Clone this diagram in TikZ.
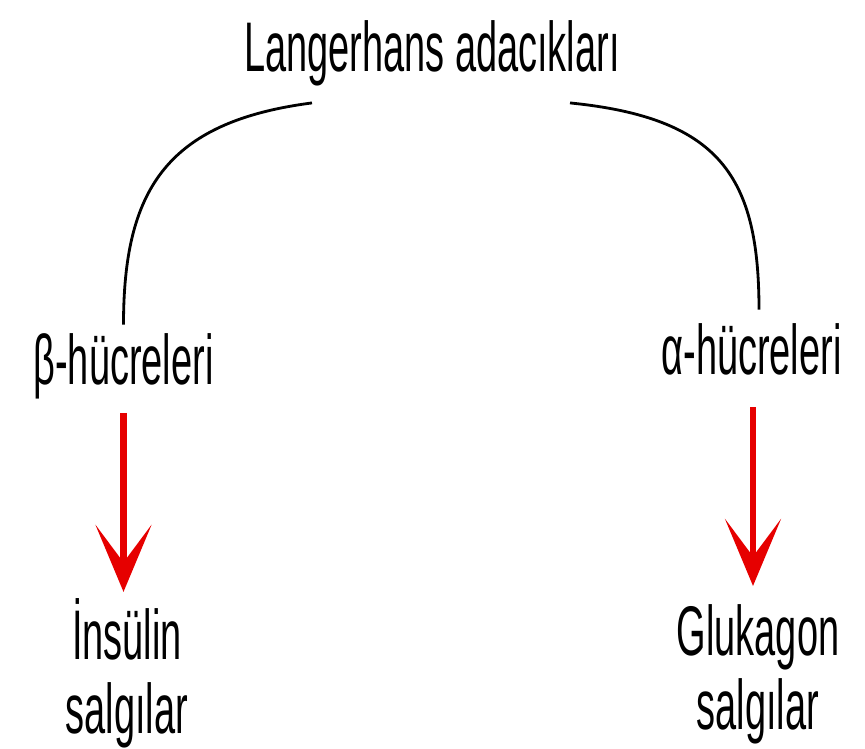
\documentclass[tikz,border=0pt]{standalone}
\usepackage{fontspec}
\setmainfont{Liberation Sans}[FakeStretch=0.54]
\usepackage{xcolor}
\usetikzlibrary{calc, arrows.meta}

\definecolor{salgikirmizi}{RGB}{230,0,0}

\begin{document}
\begin{tikzpicture}[x=0.02cm, y=-0.02cm,
    etiket/.style={inner sep=0pt, anchor=base, font=\fontsize{40}{42}\selectfont},
    kol/.style={line width=1.6pt, black},
    salgi/.style={line width=3.8pt, salgikirmizi,
        -{Stealth[length=1.34cm, width=1.12cm, inset=0.75cm]}}]

    \useasboundingbox (0,0) rectangle (865,749);

    % =================================================================
    % 1. YAZILAR
    % =================================================================
    \node[etiket] (ada) at (432,72) {Langerhans adacıkları};

    \node[etiket] (beta) at (123.5,385) {β-hücreleri};
    \node[etiket] (alfa) at (751.5,375) {α-hücreleri};

    % iki satırlı düğümlerde base = son satır
    \node[etiket, align=center] (ins) at (127,733) {İnsülin\\salgılar};
    \node[etiket, align=center] (glu) at (758,729) {Glukagon\\salgılar};

    % =================================================================
    % 2. DALLAR (adacıklardan hücrelere)
    % =================================================================
    \draw[kol] ([yshift=0.18cm]beta.north) .. controls +(0,-133) and +(-147,19) .. ($(ada.south)+(-120,16)$);
    \draw[kol] ([xshift=0.15cm, yshift=0.28cm]alfa.north) .. controls +(0,-133) and +(150,15) .. ($(ada.south)+(138,16)$);

    % =================================================================
    % 3. KIRMIZI OKLAR (salgılanan hormon)
    % =================================================================
    \draw[salgi, shorten <=0.26cm, shorten >=0.12cm] (beta.south) -- (beta.south |- ins.north);
    \draw[salgi, shorten <=0.62cm, shorten >=0.36cm] ([xshift=0.03cm]alfa.south) -- ([xshift=0.03cm]alfa.south |- glu.north);

\end{tikzpicture}
\end{document}
